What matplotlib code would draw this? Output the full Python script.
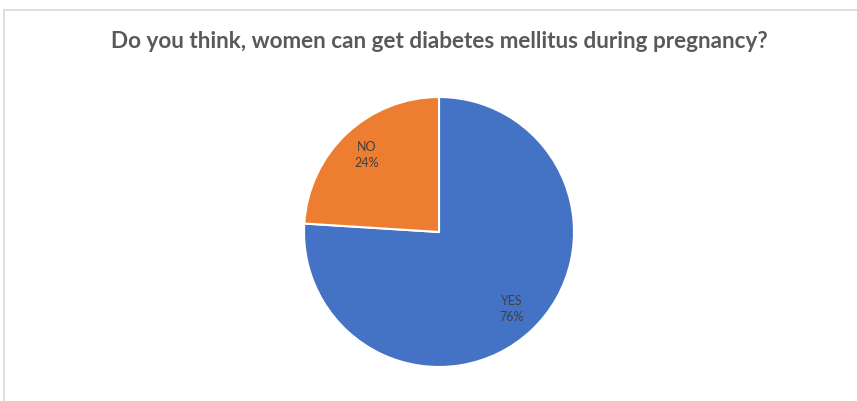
import matplotlib
matplotlib.use("Agg")
import matplotlib.pyplot as plt
from matplotlib.lines import Line2D

# Survey answers (share of respondents, %)
categories = ["YES", "NO"]
shares = [76, 24]
colors = ["#4472c4", "#ed7d31"]
title = "Do you think, women can get diabetes mellitus during pregnancy?"

labels = [f"{c}\n{s}%" for c, s in zip(categories, shares)]

fig = plt.figure(figsize=(8.57, 4.01), dpi=100)
fig.patch.set_facecolor("white")

# chart frame (only top and left edge visible in the crop)
fig.add_artist(Line2D([4 / 857, 1], [1 - 10 / 401] * 2, color="#d9d9d9", lw=1.2))
fig.add_artist(Line2D([4 / 857] * 2, [0, 1 - 10 / 401], color="#d9d9d9", lw=1.2))

ax = fig.add_axes([304 / 857, 34 / 401, 270 / 857, 270 / 401])
wedges, texts = ax.pie(shares, labels=labels, colors=colors, startangle=90,
                       counterclock=False, labeldistance=0.78,
                       wedgeprops=dict(edgecolor="white", linewidth=1.5),
                       textprops=dict(fontsize=9, color="#404040", family="Lato"))
for t in texts:
    t.set_horizontalalignment("center")
    t.set_multialignment("center")
    t.set_linespacing(1.45)
ax.set_xlim(-1, 1)
ax.set_ylim(-1, 1)
ax.set_aspect("equal")

fig.text(439 / 857, 1 - 42 / 401, title, ha="center", va="center",
         fontsize=16.2, fontweight="bold", color="#595959", family="Lato")

fig.savefig("out.png", dpi=100)
